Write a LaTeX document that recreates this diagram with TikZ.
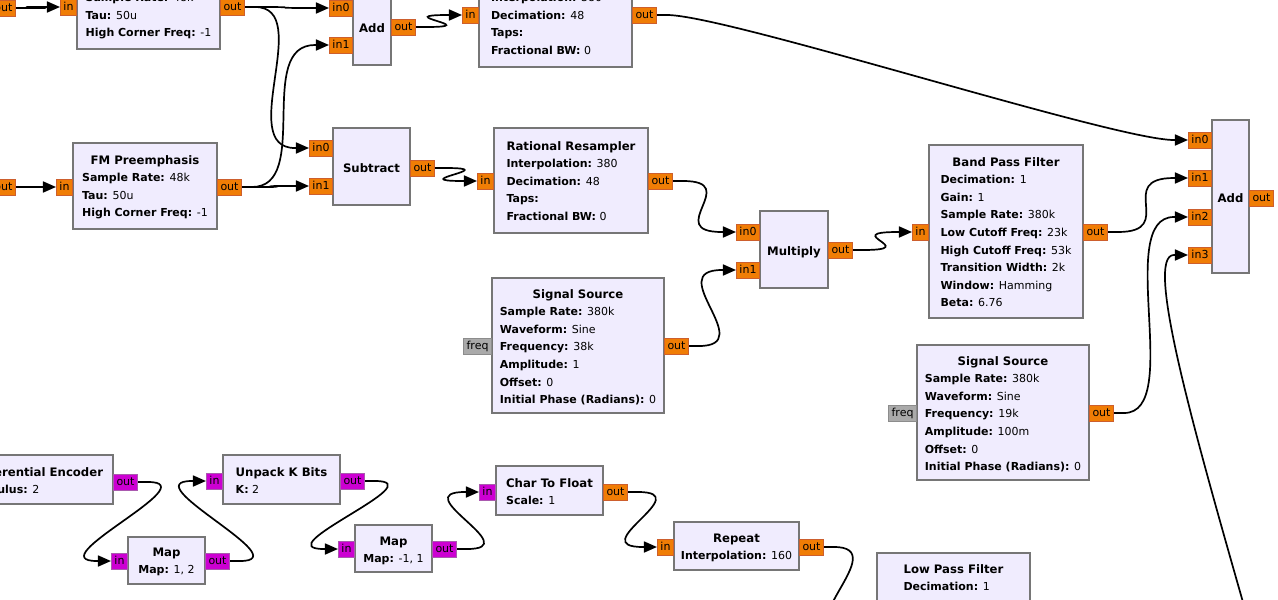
\documentclass[tikz,border=0pt]{standalone}
\usepackage{fontspec}
\setmainfont{DejaVu Sans}
\usetikzlibrary{arrows.meta}

\definecolor{blockfill}{RGB}{240,236,254}
\definecolor{blockline}{RGB}{118,118,118}
\definecolor{floatport}{RGB}{240,125,5}
\definecolor{floatline}{RGB}{205,95,45}
\definecolor{byteport}{RGB}{204,0,210}
\definecolor{byteline}{RGB}{170,90,175}
\definecolor{msgport}{RGB}{170,170,170}
\definecolor{msgline}{RGB}{140,140,140}

\tikzset{
	block/.style={draw=blockline, fill=blockfill, line width=1.6pt, inner sep=0pt},
	blocktext/.style={inner sep=0pt, anchor=base, font=\fontsize{11}{17.6}\selectfont},
	port/.style={line width=1pt, inner xsep=3pt, inner ysep=0pt, minimum height=16pt,
		text height=8pt, text depth=2pt, font=\fontsize{11}{12}\selectfont},
	fport/.style={port, fill=floatport, draw=floatline},
	bport/.style={port, fill=byteport, draw=byteline},
	mport/.style={port, fill=msgport, draw=msgline},
	wire/.style={line width=1.7pt, -{Triangle[length=13pt, width=11pt]}}
}

% Block: Name, links, oben, rechts, unten
\newcommand{\grcbox}[5]{\node[block, minimum width={#4-#2}, minimum height={#5-#3}]
	(#1) at ({(#2+#4)/2},{(#3+#5)/2}) {};}
% Titel etwas groesser
\newcommand{\ttl}[1]{{\fontsize{11.7}{17.6}\selectfont\textbf{#1}}}
% Text: Name, Mitte x, Titelzeile y, Titel, Parameter
\newcommand{\grctext}[5]{\node[blocktext] (#1-txt) at (#2,#3+5)
	{\begin{tabular}[t]{@{}l@{}}\multicolumn{1}{@{}c@{}}{\ttl{#4}}\\#5\end{tabular}};}
\newcommand{\kv}[2]{\textbf{#1:} #2}

\begin{document}
\begin{tikzpicture}[x=1pt, y=-1pt]
	\useasboundingbox (0,0) rectangle (1278,600);
	\fill[white] (0,0) rectangle (1278,600);
	\clip (0,0) rectangle (1278,600);

	% Quellen links
	\node[fport, anchor=east] (srcA-out) at (16,8) {out};
	\node[fport, anchor=east] (srcB-out) at (16,187) {out};

	% FM Preemphasis oben
	\grcbox{fmA}{77}{-37}{220}{49}
	\grctext{fmA}{148.5}{-21}{FM Preemphasis}{\kv{Sample Rate}{48k}\\\kv{Tau}{50u}\\\kv{High Corner Freq}{-1}}
	\node[fport, anchor=east] (fmA-in) at (77,7) {in};
	\node[fport, anchor=west] (fmA-out) at (220,7) {out};

	% FM Preemphasis unten
	\grcbox{fmB}{73}{143}{217}{229}
	\grctext{fmB}{145}{159}{FM Preemphasis}{\kv{Sample Rate}{48k}\\\kv{Tau}{50u}\\\kv{High Corner Freq}{-1}}
	\node[fport, anchor=east] (fmB-in) at (73,187) {in};
	\node[fport, anchor=west] (fmB-out) at (217,187) {out};

	% Add / Subtract
	\grcbox{addA}{353}{-13}{391}{65}
	\node[blocktext] (addA-txt) at (372,32) {\ttl{Add}};
	\node[fport, anchor=east] (addA-in0) at (353,8) {in0};
	\node[fport, anchor=east] (addA-in1) at (353,45) {in1};
	\node[fport, anchor=west] (addA-out) at (391,27) {out};
	\grcbox{sub}{333}{128}{410}{205}
	\node[blocktext] (sub-txt) at (371.5,172) {\ttl{Subtract}};
	\node[fport, anchor=east] (sub-in0) at (333,148) {in0};
	\node[fport, anchor=east] (sub-in1) at (333,186) {in1};
	\node[fport, anchor=west] (sub-out) at (410,168) {out};

	% Rational Resampler
	\grcbox{rrA}{479}{-38}{632}{67}
	\grctext{rrA}{555.5}{-21}{Rational Resampler}{\kv{Interpolation}{380}\\\kv{Decimation}{48}\\\kv{Taps}{}\\\kv{Fractional BW}{0}}
	\node[fport, anchor=east] (rrA-in) at (479,15) {in};
	\node[fport, anchor=west] (rrA-out) at (632,15) {out};
	\grcbox{rrB}{494}{128}{648}{233}
	\grctext{rrB}{571}{145}{Rational Resampler}{\kv{Interpolation}{380}\\\kv{Decimation}{48}\\\kv{Taps}{}\\\kv{Fractional BW}{0}}
	\node[fport, anchor=east] (rrB-in) at (494,181) {in};
	\node[fport, anchor=west] (rrB-out) at (648,181) {out};

	% Multiply
	\grcbox{mul}{760}{211}{828}{288}
	\node[blocktext] (mul-txt) at (794,255) {\ttl{Multiply}};
	\node[fport, anchor=east] (mul-in0) at (760,232) {in0};
	\node[fport, anchor=east] (mul-in1) at (760,270) {in1};
	\node[fport, anchor=west] (mul-out) at (828,250) {out};

	% Signal Source 38k
	\grcbox{sigA}{492}{278}{664}{413}
	\grctext{sigA}{578}{293}{Signal Source}{\kv{Sample Rate}{380k}\\\kv{Waveform}{Sine}\\\kv{Frequency}{38k}\\\kv{Amplitude}{1}\\\kv{Offset}{0}\\\kv{Initial Phase (Radians)}{0}}
	\node[mport, anchor=east] (sigA-freq) at (492,346) {freq};
	\node[fport, anchor=west] (sigA-out) at (664,346) {out};

	% Band Pass Filter
	\grcbox{bpf}{929}{145}{1083}{318}
	\grctext{bpf}{1006}{161}{Band Pass Filter}{\kv{Decimation}{1}\\\kv{Gain}{1}\\\kv{Sample Rate}{380k}\\\kv{Low Cutoff Freq}{23k}\\\kv{High Cutoff Freq}{53k}\\\kv{Transition Width}{2k}\\\kv{Window}{Hamming}\\\kv{Beta}{6.76}}
	\node[fport, anchor=east] (bpf-in) at (929,232) {in};
	\node[fport, anchor=west] (bpf-out) at (1083,232) {out};

	% Signal Source 19k
	\grcbox{sigB}{917}{345}{1089}{480}
	\grctext{sigB}{1003}{360}{Signal Source}{\kv{Sample Rate}{380k}\\\kv{Waveform}{Sine}\\\kv{Frequency}{19k}\\\kv{Amplitude}{100m}\\\kv{Offset}{0}\\\kv{Initial Phase (Radians)}{0}}
	\node[mport, anchor=east] (sigB-freq) at (917,413) {freq};
	\node[fport, anchor=west] (sigB-out) at (1089,413) {out};

	% Add rechts
	\grcbox{addB}{1212}{120}{1249}{273}
	\node[blocktext] (addB-txt) at (1230.5,202) {\ttl{Add}};
	\foreach \i/\y in {0/140,1/178,2/217,3/255}
		\node[fport, anchor=east] (addB-in\i) at (1212,\y) {in\i};
	\node[fport, anchor=west] (addB-out) at (1249,198) {out};
	\node[fport, anchor=west] (srcC-out) at (1280,960) {out};

	% RDS-Kette unten
	\grcbox{denc}{-34}{455}{113}{504}
	\grctext{denc}{37}{471}{Differential Encoder}{\kv{Modulus}{2}}
	\node[bport, anchor=west] (denc-out) at (113,482) {out};
	\grcbox{mapA}{128}{537}{205}{584}
	\grctext{mapA}{166.5}{551}{Map}{\kv{Map}{1, 2}}
	\node[bport, anchor=east] (mapA-in) at (128,561) {in};
	\node[bport, anchor=west] (mapA-out) at (205,561) {out};
	\grcbox{unp}{223}{455}{340}{504}
	\grctext{unp}{281.5}{471}{Unpack K Bits}{\kv{K}{2}}
	\node[bport, anchor=east] (unp-in) at (223,481) {in};
	\node[bport, anchor=west] (unp-out) at (340,481) {out};
	\grcbox{mapB}{355}{525}{432}{572}
	\grctext{mapB}{393.5}{540}{Map}{\kv{Map}{-1, 1}}
	\node[bport, anchor=east] (mapB-in) at (355,549) {in};
	\node[bport, anchor=west] (mapB-out) at (432,549) {out};
	\grcbox{c2f}{496}{466}{603}{515}
	\grctext{c2f}{549.5}{482}{Char To Float}{\kv{Scale}{1}}
	\node[bport, anchor=east] (c2f-in) at (496,492) {in};
	\node[fport, anchor=west] (c2f-out) at (603,492) {out};
	\grcbox{rep}{674}{522}{799}{570}
	\grctext{rep}{736.5}{537}{Repeat}{\kv{Interpolation}{160}}
	\node[fport, anchor=east] (rep-in) at (674,547) {in};
	\node[fport, anchor=west] (rep-out) at (799,547) {out};
	\grcbox{lpf}{877}{553}{1030}{708}
	\grctext{lpf}{953.5}{568}{Low Pass Filter}{\kv{Decimation}{1}}
	\node[fport, anchor=east] (lpf-in) at (877,631) {in};

	% Verbindungen
	\foreach \a/\b in {srcA-out/fmA-in, srcB-out/fmB-in, fmA-out/addA-in0, fmA-out/sub-in0,
		fmB-out/addA-in1, fmB-out/sub-in1, addA-out/rrA-in, sub-out/rrB-in,
		rrA-out/addB-in0, rrB-out/mul-in0, sigA-out/mul-in1, mul-out/bpf-in,
		bpf-out/addB-in1, sigB-out/addB-in2, srcC-out/addB-in3,
		denc-out/mapA-in, mapA-out/unp-in, unp-out/mapB-in, mapB-out/c2f-in,
		c2f-out/rep-in, rep-out/lpf-in}
		\draw[wire] (\a.east) -- ++(10,0) .. controls +(60,0) and +(-60,0)
			.. ([xshift=-14pt]\b.west) -- (\b.west);
\end{tikzpicture}
\end{document}
